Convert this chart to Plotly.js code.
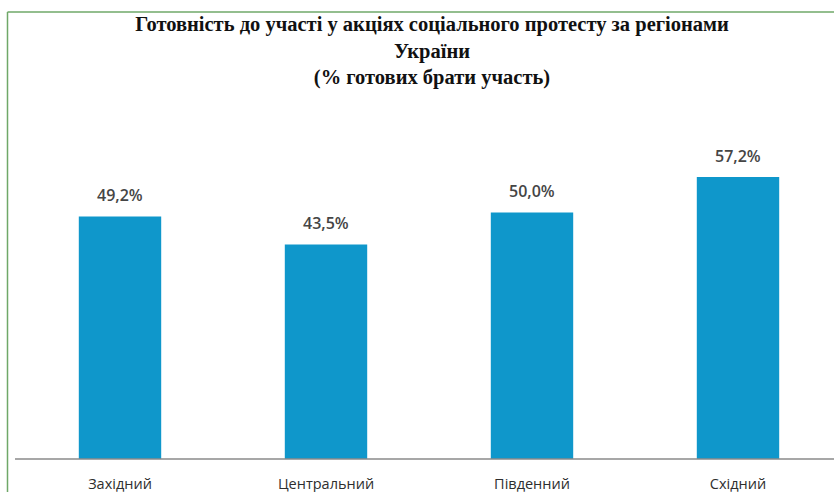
<!DOCTYPE html>
<html><head><meta charset="utf-8">
<script src="https://cdn.plot.ly/plotly-3.0.1.min.js"></script>
<style>html,body{margin:0;padding:0;background:#fff}#c{width:834px;height:492px}</style>
</head><body><div id="c"></div>
<script>
const categories = ["Західний", "Центральний", "Південний", "Східний"];
const values = [49.2, 43.5, 50.0, 57.2];
const valueLabels = ["49,2%", "43,5%", "50,0%", "57,2%"];
const titleText = "Готовність до участі у акціях соціального протесту за регіонами<br>України<br>(% готових брати участь)";

const W = 834, H = 492, L = 17, R = 0, T = 100, B = 33;
const pw = W - L - R, ph = H - T - B;
const px = x => (x - L) / pw;
const py = y => (H - B - y) / ph;

const trace = {
  type: "bar", x: categories, y: values, width: 0.4,
  marker: {color: "#0f97cb", line: {width: 0}},
  hoverinfo: "skip"
};
const annotations = categories.map((c, i) => ({
  x: c, y: values[i], xref: "x", yref: "y", text: valueLabels[i],
  showarrow: false, yanchor: "bottom", yshift: 8,
  font: {family: "Open Sans", size: 16, color: "#454545", weight: 600}
}));
const layout = {
  width: W, height: H, margin: {l: L, r: R, t: T, b: B, pad: 0},
  paper_bgcolor: "#fff", plot_bgcolor: "#fff", showlegend: false,
  title: {text: titleText, x: 0.518, xref: "container", y: 0.937, yref: "container", yanchor: "top",
    font: {family: "Liberation Serif", size: 20.5, color: "#111", weight: "bold"}},
  xaxis: {type: "category", range: [-0.5, 3.466], showgrid: false, zeroline: false, showline: false,
    ticks: "", ticklabelstandoff: 14, tickfont: {family: "Open Sans", size: 14.5, color: "#2e2e2e"}, fixedrange: true},
  yaxis: {range: [0, 72.8], visible: false, showgrid: false, zeroline: false, fixedrange: true},
  annotations: annotations,
  shapes: [
    {type: "line", xref: "paper", yref: "paper", x0: px(15), x1: 1, y0: 0, y1: 0, line: {color: "#8a8a8a", width: 1.5}},
    {type: "line", xref: "paper", yref: "paper", x0: px(7.5), x1: px(834), y0: py(12), y1: py(12), line: {color: "#6fa868", width: 1.5}},
    {type: "line", xref: "paper", yref: "paper", x0: px(7.5), x1: px(7.5), y0: py(12), y1: py(492), line: {color: "#6fa868", width: 1.5}}
  ]
};
Plotly.newPlot("c", [trace], layout, {displayModeBar: false, staticPlot: true});
</script></body></html>
